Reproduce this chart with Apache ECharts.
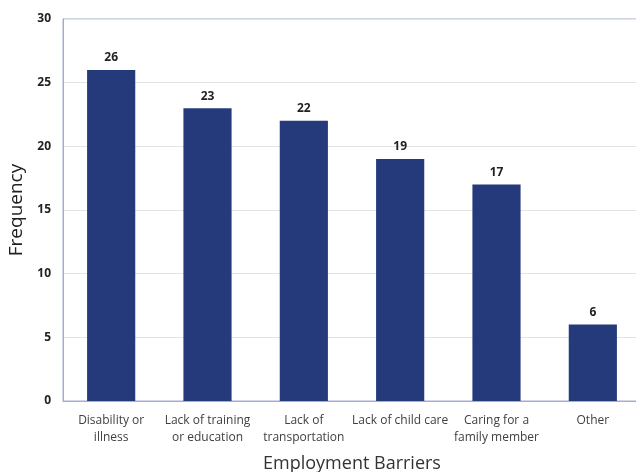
<!DOCTYPE html>
<html>
<head>
<meta charset="utf-8">
<script src="https://cdn.jsdelivr.net/npm/echarts@6/dist/echarts.min.js"></script>
<style>
  html, body { margin: 0; padding: 0; background: #fff; }
  #chart { width: 636px; height: 472px; }
</style>
</head>
<body>
<div id="chart"></div>
<script>
// Reported barriers to employment and how often each was named
const categories = [
  'Disability or\nillness',
  'Lack of training\nor education',
  'Lack of\ntransportation',
  'Lack of child care',
  'Caring for a\nfamily member',
  'Other'
];
const frequency = [26, 23, 22, 19, 17, 6];
const yTicks = [0, 5, 10, 15, 20, 25, 30];

const font = '"Open Sans", "Liberation Sans", sans-serif';
const chart = echarts.init(document.getElementById('chart'));

chart.setOption({
  animation: false,
  grid: {
    left: 63, right: -5, top: 19, bottom: 71,
    containLabel: false,
    outerBoundsMode: 'none',
    show: true, borderColor: '#a3acd3', borderWidth: 1, backgroundColor: 'transparent'
  },
  xAxis: {
    type: 'category',
    data: categories,
    name: 'Employment Barriers',
    nameLocation: 'middle',
    nameGap: 54,
    nameTextStyle: { fontFamily: font, fontSize: 18, color: '#333' },
    axisLine: { show: true, lineStyle: { color: '#a3acd3' } },
    axisTick: { show: false },
    axisLabel: { fontFamily: font, fontSize: 12, color: '#404040', lineHeight: 17, margin: 11, interval: 0 }
  },
  yAxis: {
    type: 'value',
    min: yTicks[0],
    max: yTicks[yTicks.length - 1],
    interval: 5,
    name: 'Frequency',
    nameLocation: 'middle',
    nameGap: 36,
    nameTextStyle: { fontFamily: font, fontSize: 19, color: '#222' },
    axisLine: { show: true, lineStyle: { color: '#a3acd3' } },
    axisTick: { show: false },
    axisLabel: { fontFamily: font, fontSize: 12, fontWeight: 'bold', color: '#222', margin: 12 },
    splitLine: { lineStyle: { color: '#e3e3e3' } }
  },
  series: [{
    type: 'bar',
    data: frequency,
    barWidth: '50%',
    itemStyle: { color: '#253a7a' },
    label: {
      show: true, position: 'top', distance: 6,
      fontFamily: font, fontSize: 12, fontWeight: 'bold', color: '#222'
    }
  }]
});
</script>
</body>
</html>
